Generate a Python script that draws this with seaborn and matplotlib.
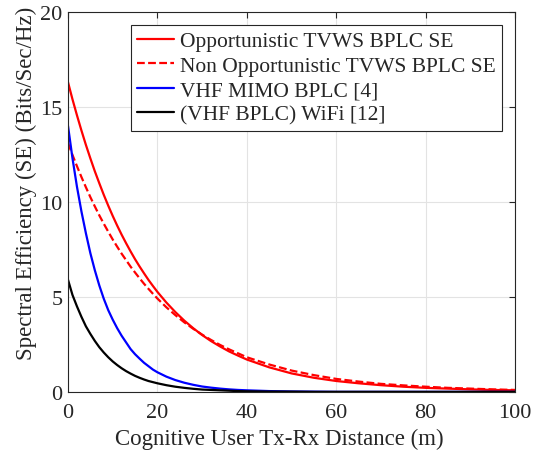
#!/usr/bin/env python3
# Spectral efficiency vs cognitive user distance

import numpy as np
import pandas as pd
import matplotlib
matplotlib.use('Agg')
import matplotlib.pyplot as plt
import seaborn as sns

# Distances (m) where the curves were read
distance = [0, 1, 2, 3, 4, 5, 6, 7, 8, 9, 10, 11, 12, 13, 14, 15, 16, 17, 18, 19, 20,
            22, 24, 26, 28, 30, 32, 34, 36, 38, 40,
            45, 50, 55, 60, 65, 70, 75, 80, 85, 90, 95, 100]

# Spectral efficiency values (Bits/Sec/Hz)
opportunistic = [16.30, 15.40, 14.56, 13.76, 13.00, 12.29, 11.61, 10.98, 10.37, 9.80,
                 9.26, 8.75, 8.27, 7.82, 7.39, 6.98, 6.60, 6.24, 5.89, 5.57, 5.26,
                 4.70, 4.20, 3.75, 3.35, 2.99, 2.67, 2.39, 2.13, 1.91, 1.70,
                 1.29, 0.97, 0.74, 0.57, 0.45, 0.35, 0.27, 0.21, 0.17, 0.13, 0.10, 0.08]
non_opportunistic = [13.10, 12.47, 11.88, 11.31, 10.77, 10.25, 9.76, 9.29, 8.85, 8.43,
                     8.02, 7.64, 7.27, 6.93, 6.59, 6.28, 5.98, 5.69, 5.42, 5.16, 4.91,
                     4.45, 4.04, 3.66, 3.32, 3.01, 2.73, 2.47, 2.24, 2.03, 1.82,
                     1.44, 1.12, 0.88, 0.68, 0.54, 0.42, 0.34, 0.27, 0.21, 0.17, 0.13, 0.10]
vhf_mimo = [14.0, 12.3, 10.8, 9.5, 8.35, 7.3, 6.4, 5.6, 4.9, 4.3,
            3.8, 3.35, 2.95, 2.6, 2.25, 1.98, 1.75, 1.53, 1.35, 1.17, 1.03,
            0.80, 0.62, 0.48, 0.37, 0.28, 0.22, 0.17, 0.13, 0.10, 0.08,
            0.04, 0.02, 0.01, 0.0, 0.0, 0.0, 0.0, 0.0, 0.0, 0.0, 0.0, 0.0]
wifi = [5.9, 5.1, 4.5, 3.95, 3.45, 3.05, 2.68, 2.35, 2.07, 1.82,
        1.6, 1.41, 1.24, 1.09, 0.96, 0.84, 0.74, 0.65, 0.57, 0.51, 0.45,
        0.35, 0.27, 0.21, 0.16, 0.12, 0.10, 0.08, 0.06, 0.04, 0.03,
        0.015, 0.01, 0.0, 0.0, 0.0, 0.0, 0.0, 0.0, 0.0, 0.0, 0.0, 0.0]

labels = ['Opportunistic TVWS BPLC SE', 'Non Opportunistic TVWS BPLC SE',
          'VHF MIMO BPLC [4]', '(VHF BPLC) WiFi [12]']

df = pd.DataFrame({'distance': distance,
                   labels[0]: opportunistic,
                   labels[1]: non_opportunistic,
                   labels[2]: vhf_mimo,
                   labels[3]: wifi})

sns.set_style('white')
plt.rcParams['font.family'] = ['Liberation Serif', 'DejaVu Serif']

fig = plt.figure(figsize=(5.44, 4.6), dpi=100)
ax = fig.add_axes([0.125, 0.146, 0.822, 0.826])

colors = ['#ff0000', '#ff0000', '#0000ff', '#000000']
styles = ['-', (0, (3.5, 1.5)), '-', '-']
for lab, c, ls in zip(labels, colors, styles):
    sns.lineplot(data=df, x='distance', y=lab, color=c, linestyle=ls,
                 linewidth=1.6, label=lab, ax=ax)

ax.set_xlim(0, 100)
ax.set_ylim(0, 20)
ax.set_xticks([0, 20, 40, 60, 80, 100])
ax.set_yticks([0, 5, 10, 15, 20])
ax.grid(True, color='#e3e3e3', linewidth=0.8)
ax.tick_params(direction='in', length=4, width=0.8, labelsize=16,
               colors='#262626', top=True, right=True)
ax.tick_params(axis='x', pad=8)
ax.tick_params(axis='y', pad=4)
for s in ax.spines.values():
    s.set_color('#262626')
    s.set_linewidth(0.8)

ax.set_xlabel('Cognitive User Tx-Rx Distance (m)', fontsize=16.5, color='#262626')
ax.set_ylabel('Spectral Efficiency (SE) (Bits/Sec/Hz)', fontsize=16.5, color='#262626')
ax.xaxis.set_label_coords(0.472, -0.095)
ax.yaxis.set_label_coords(-0.069, 0.552)

leg = ax.legend(loc='upper right', fontsize=15.5, frameon=True, fancybox=False,
                edgecolor='#262626', framealpha=1, handlelength=1.7,
                handletextpad=0.3, borderpad=0.3, labelspacing=0.2,
                borderaxespad=0.6)
leg.get_frame().set_linewidth(0.8)

plt.savefig('out.png', dpi=100)
